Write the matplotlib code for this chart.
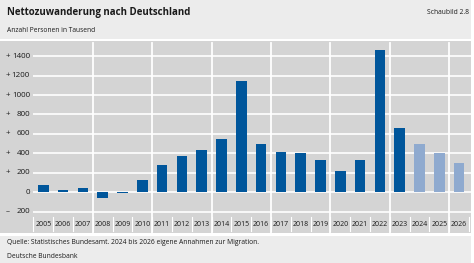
import matplotlib
matplotlib.use("Agg")
import matplotlib.pyplot as plt
from matplotlib.patches import Rectangle
import matplotlib.transforms as mtransforms

# data (thousand persons)
years = list(range(2005, 2027))
values = [80, 25, 45, -55, -12, 130, 282, 370, 430, 553, 1140, 500,
          416, 400, 330, 220, 330, 1462, 660, 500, 400, 300]
forecast_from = 2024
yticks = [-200, 0, 200, 400, 600, 800, 1000, 1200, 1400]

title = "Nettozuwanderung nach Deutschland"
subtitle = "Anzahl Personen in Tausend"
label = "Schaubild 2.8"
source = "Quelle: Statistisches Bundesamt. 2024 bis 2026 eigene Annahmen zur Migration."
publisher = "Deutsche Bundesbank"

dark_blue = "#00569b"
light_blue = "#8faacf"
plot_gray = "#d4d4d4"
band_gray = "#ececec"
text_col = "#1a1a1a"

plt.rcParams["font.family"] = ["Open Sans", "DejaVu Sans"]

W, H = 474, 263
fig = plt.figure(figsize=(W / 100, H / 100), dpi=100)
fig.patch.set_facecolor("white")

def px(x, y, w, h):
    return (x / W, 1 - (y + h) / H, w / W, h / H)

# background bands
for (x, y, w, h, c) in [(0, 0, 471, 39, band_gray), (0, 41, 471, 192, plot_gray),
                        (0, 236, 471, 27, band_gray)]:
    l, b, ww, hh = px(x, y, w, h)
    fig.patches.append(Rectangle((l, b), ww, hh, transform=fig.transFigure,
                                 facecolor=c, edgecolor="none", zorder=-5))

ax = fig.add_axes(px(33, 41, 438, 192))
ax.set_zorder(2)
ax.set_facecolor("none")
ax.set_xlim(years[0] - 0.52, years[-1] + 0.6)
ax.set_ylim(-418, 1555)
for s in ax.spines.values():
    s.set_visible(False)
ax.set_xticks([])
ax.set_yticks([])

for t in yticks:
    ax.axhline(t, color="white", lw=1.2, zorder=1)

colors = [dark_blue if y < forecast_from else light_blue for y in years]
ax.bar(years, values, width=0.54, color=colors, zorder=3)

trans = mtransforms.blended_transform_factory(ax.transData, ax.transAxes)
# group separators every three years
for y in years[2::3]:
    if y == years[-1]:
        continue
    ax.plot([y + 0.5, y + 0.5], [0, 0.99], color="white", lw=1.3,
            transform=trans, zorder=2, clip_on=False)
# short ticks between year labels
for y in years + [years[-1] + 1]:
    ax.plot([y - 0.5, y - 0.5], [0.01, 0.085], color="white", lw=0.8,
            transform=trans, zorder=2, clip_on=False)
for y in years:
    ax.text(y, 0.043, str(y), transform=trans, ha="center", va="center",
            fontsize=5.0, color=text_col)

# y tick labels: sign left column, number right aligned
ytrans = mtransforms.blended_transform_factory(fig.transFigure, ax.transData)
for t in yticks:
    num = f"{abs(t)}"
    ax.text(30 / W, t, num, transform=ytrans, ha="right", va="center",
            fontsize=5.8, color=text_col, clip_on=False)
    if t != 0:
        sign = "+" if t > 0 else "\u2013"
        ax.text(6 / W, t, sign, transform=ytrans, ha="left", va="center",
                fontsize=5.8, color=text_col, clip_on=False)

fig.text(7 / W, 1 - 13 / H, title, fontsize=7.0, fontweight="bold",
         ha="left", va="center", color=text_col)
fig.text(7 / W, 1 - 30 / H, subtitle, fontsize=4.75, ha="left", va="center",
         color=text_col)
fig.text(469 / W, 1 - 12 / H, label, fontsize=4.9, ha="right", va="center",
         color=text_col)
fig.text(7 / W, 1 - 243 / H, source, fontsize=4.9, ha="left", va="center",
         color=text_col)
fig.text(7 / W, 1 - 256 / H, publisher, fontsize=4.9, ha="left", va="center",
         color=text_col)

fig.savefig("out.png", dpi=100)
